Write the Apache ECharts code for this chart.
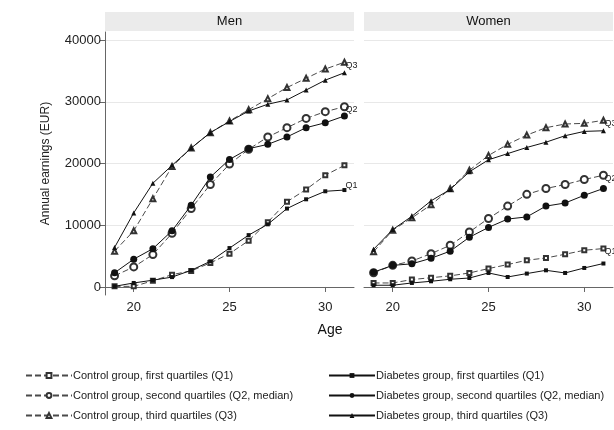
<!DOCTYPE html>
<html><head><meta charset="utf-8">
<script src="https://cdn.jsdelivr.net/npm/echarts@6/dist/echarts.min.js"></script>
<style>html,body{margin:0;padding:0;background:#fff}#c{width:614px;height:430px}</style>
</head><body><div id="c"></div><script>
const ages = [19,20,21,22,23,24,25,26,27,28,29,30,31];
const panelTitles = ['Men','Women'];
const yTicks = [0,10000,20000,30000,40000];
const xTicks = [20,25,30];
const seriesNames = [
  'Control group, first quartiles (Q1)',
  'Control group, second quartiles (Q2, median)',
  'Control group, third quartiles (Q3)',
  'Diabetes group, first quartiles (Q1)',
  'Diabetes group, second quartiles (Q2, median)',
  'Diabetes group, third quartiles (Q3)'
];
const endTags = ['Q1','Q2','Q3'];
// Men
const menCtrlQ1 = [100,100,1000,2000,2600,3900,5400,7500,10500,13800,15800,18100,19700];
const menCtrlQ2 = [1800,3250,5250,8700,12700,16600,19900,22300,24300,25800,27300,28400,29200];
const menCtrlQ3 = [5800,9100,14300,19500,22500,25000,26900,28700,30500,32300,33800,35300,36400];
const menDiabQ1 = [100,650,1100,1600,2700,4150,6300,8400,10150,12700,14200,15500,15700];
const menDiabQ2 = [2300,4500,6200,9100,13250,17800,20650,22400,23100,24300,25800,26600,27700];
const menDiabQ3 = [6400,12000,16800,19700,22500,25000,26800,28500,29600,30300,31900,33500,34700];
// Women
const womenCtrlQ1 = [650,650,1200,1500,1800,2270,2980,3630,4330,4700,5300,5950,6220];
const womenCtrlQ2 = [2300,3500,4200,5400,6750,8900,11100,13100,15000,15950,16600,17400,18100];
const womenCtrlQ3 = [5700,9200,11200,13300,15900,18900,21300,23100,24600,25800,26400,26500,27000];
const womenDiabQ1 = [280,280,650,920,1250,1450,2270,1620,2170,2700,2270,3080,3800];
const womenDiabQ2 = [2400,3500,3750,4650,5800,8050,9650,11000,11350,13100,13600,14850,15950];
const womenDiabQ3 = [6100,9300,11450,13950,15800,18650,20600,21600,22600,23450,24500,25200,25300];

const panels = [
  [menCtrlQ1,menCtrlQ2,menCtrlQ3,menDiabQ1,menDiabQ2,menDiabQ3],
  [womenCtrlQ1,womenCtrlQ2,womenCtrlQ3,womenDiabQ1,womenDiabQ2,womenDiabQ3]
];
const symbols = ['emptyRect','emptyCircle','emptyTriangle','rect','circle','triangle'];
const symSizes = [4,7,5,4,7,5];
const FONT = "'Liberation Sans', Arial, sans-serif";

const series = [];
panels.forEach((vals, p) => {
  vals.forEach((arr, k) => {
    const ctrl = k < 3;
    const s = {
      name: seriesNames[k], type: 'line', xAxisIndex: p, yAxisIndex: p,
      data: ages.map((a, i) => [a, arr[i]]),
      symbol: symbols[k], symbolSize: symSizes[k],
      lineStyle: {color: ctrl ? '#4a4a4a' : '#111', width: 1, type: ctrl ? [6,3] : 'solid'},
      itemStyle: {color: ctrl ? '#333' : '#111', borderWidth: 0.9},
      z: ctrl ? 3 : 4
    };
    if (ctrl) {
      s.endLabel = {show: true, formatter: endTags[k], fontSize: 9, color: '#222', distance: 1,
        fontFamily: FONT, offset: (p === 0 && k === 0) ? [0, 20] : [0, 3]};
    }
    series.push(s);
  });
});

const grids = [
  {left: 105, right: 260, top: 32, bottom: 135},
  {left: 364, right: 1, top: 32, bottom: 135}
];
const xAxes = grids.map((g, i) => ({
  type: 'value', gridIndex: i, min: 18.5, max: 31.5,
  axisLine: {show: true, lineStyle: {color: '#666', width: 1}},
  axisTick: {show: true, length: 5, customValues: xTicks, lineStyle: {color: '#666'}},
  axisLabel: {customValues: xTicks, fontSize: 13, color: '#222', fontFamily: FONT, margin: 6,
    formatter: v => String(v)},
  splitLine: {show: false}
}));
const yAxes = grids.map((g, i) => ({
  type: 'value', gridIndex: i, min: -1300, max: 41300,
  name: i === 0 ? 'Annual earnings (EUR)' : '', nameLocation: 'middle', nameGap: 53,
  nameTextStyle: {fontSize: 12, color: '#222', fontFamily: FONT},
  axisLine: {show: i === 0, lineStyle: {color: '#666', width: 1}},
  axisTick: {show: i === 0, length: 5, customValues: yTicks, lineStyle: {color: '#666'}},
  axisLabel: {show: i === 0, customValues: yTicks, fontSize: 13, color: '#222', fontFamily: FONT, margin: 4,
    formatter: v => String(v)},
  splitLine: {show: true, lineStyle: {color: '#e8e8e8', width: 1}}
}));

const graphic = [];
const headerBoxes = [[105, 249], [364, 249]];
headerBoxes.forEach((b, i) => {
  graphic.push({type: 'rect', left: b[0], top: 12, shape: {width: b[1], height: 19}, style: {fill: '#ebebeb'}, silent: true});
  graphic.push({type: 'text', x: b[0] + b[1] / 2, y: 21.5, style: {text: panelTitles[i], font: '13px ' + FONT, fill: '#111', textAlign: 'center', textVerticalAlign: 'middle'}});
});
graphic.push({type: 'text', x: 330, y: 330, style: {text: 'Age', font: '14px ' + FONT, fill: '#111', textAlign: 'center', textVerticalAlign: 'middle'}});

const legendCommon = {orient: 'vertical', itemWidth: 46, itemHeight: 6, itemGap: 9,
  textStyle: {fontSize: 11, color: '#222', fontFamily: FONT, padding: [0,0,0,-4]}, selectedMode: false};

const option = {
  animation: false,
  backgroundColor: '#fff',
  grid: grids,
  xAxis: xAxes,
  yAxis: yAxes,
  legend: [
    Object.assign({}, legendCommon, {left: 20, top: 365, data: seriesNames.slice(0, 3)}),
    Object.assign({}, legendCommon, {left: 323, top: 365, data: seriesNames.slice(3)})
  ],
  graphic: graphic,
  series: series
};
const chart = echarts.init(document.getElementById('c'), null, {renderer: 'canvas'});
chart.setOption(option);
</script></body></html>
